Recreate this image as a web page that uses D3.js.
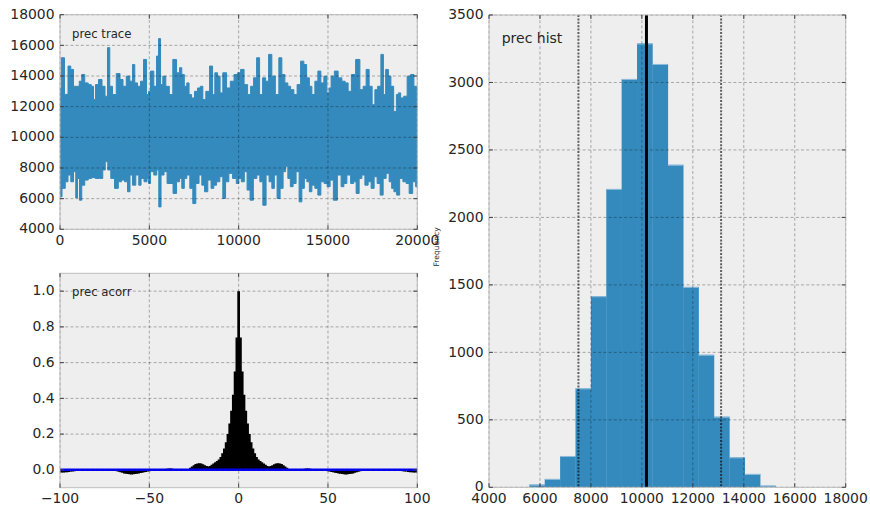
<!DOCTYPE html>
<html>
<head>
<meta charset="utf-8">
<script src="https://cdn.jsdelivr.net/npm/d3@7"></script>
<style>
  body { margin: 0; background: #ffffff; }
  text { font-family: "DejaVu Sans", sans-serif; fill: #262626; }
</style>
</head>
<body>
<svg id="fig" width="870" height="508"></svg>
<script>
// ---- MCMC trace of "prec": upper and lower envelope of the sampled chain ----
const traceHighIter = [0,140,364,532,672,840,1008,1148,1288,1484,1680,1820,1932,2044,2268,2436,2604,2716,2856,3024,3276,3444,3612,3808,4004,4116,4256,4424,4592,4760,4928,4984,5152,5348,5460,5572,5684,5824,6020,6216,6412,6636,6748,6888,7028,7168,7280,7448,7616,7784,7924,8064,8260,8484,8596,8736,8904,9016,9212,9436,9632,9856,10024,10192,10416,10584,10752,10920,11088,11256,11424,11592,11760,11956,12152,12348,12488,12684,12824,12992,13188,13356,13580,13720,13888,14028,14168,14364,14504,14700,14840,15036,15092,15260,15456,15680,15876,16044,16212,16408,16688,16884,17052,17220,17388,17556,17696,17864,18060,18144,18312,18452,18592,18760,18900,18984,19152,19320,19544,19712,19908,20000];
const traceHigh = [13200,15190,12800,14650,14430,13330,13330,13660,14100,13550,13440,13330,12460,13440,13770,13330,12680,15850,13330,12790,14160,13770,13330,13990,13660,14750,13550,13330,13660,15080,12790,13000,14320,13330,15300,16440,13440,13990,13330,12790,15080,14210,14540,14100,13330,13550,12790,12570,13000,13220,13330,12460,13000,14650,12790,14210,13990,12900,14210,13220,13660,14100,14210,14430,13440,12790,13330,13880,15190,12790,13880,13660,15410,13990,12790,15190,14100,13550,13330,13110,12790,13440,14970,14750,13880,13330,12790,13660,14320,13550,13990,12900,13220,13990,14320,13880,13660,13550,13000,14100,15080,13110,13330,14430,13330,12130,13110,13330,15410,12790,14430,13990,13330,11690,12790,12900,12570,12680,13990,14100,13330,13330];
const traceLowIter = [0,224,364,532,672,840,924,1036,1148,1288,1484,1680,1848,2100,2324,2464,2604,2744,2940,3164,3360,3528,3696,3864,3976,4144,4340,4480,4592,4816,4928,4984,5152,5348,5488,5572,5740,5908,6076,6244,6412,6636,6748,6888,7028,7168,7364,7504,7700,7868,8008,8176,8372,8540,8680,8848,9044,9184,9352,9548,9772,9968,10052,10248,10388,10556,10724,10920,11116,11256,11452,11620,11788,11928,12068,12236,12404,12572,12684,12824,12964,13132,13300,13468,13608,13748,13888,14028,14168,14364,14504,14700,14868,15036,15204,15400,15652,15820,15960,16156,16380,16492,16660,16828,16968,17164,17332,17500,17668,17836,18004,18172,18340,18508,18620,18760,18928,19096,19292,19460,19628,19852,19964,20000];
const traceLow = [6120,6670,7100,7540,7100,7760,6050,7320,5900,6880,7210,7320,7370,7320,7320,7870,8410,7870,7320,6670,7100,7210,7100,6450,7540,6880,7540,6880,7320,7100,7320,6990,7760,7540,7870,5460,7540,7760,6990,6990,6340,7100,7320,6670,7320,7540,6670,5680,6990,7540,6880,6450,7210,6670,6880,7100,7430,6010,7100,7650,7320,6990,7320,7100,7760,6560,5900,7320,7540,7100,5570,7540,7100,6670,7540,6010,6670,7760,8090,7320,6780,6990,7760,5790,6670,7320,7100,6450,6880,6670,6230,7100,6990,6780,7210,5900,7540,6780,6990,7540,6990,7100,6340,7320,7540,6880,7100,6670,7430,6990,6230,7320,7650,7100,6670,6450,6230,7320,7100,6990,6340,7100,6780,6780];

// ---- autocorrelation of the chain, lags 0..100 (symmetric in lag) ----
const acorrValues = [1.0,0.74,0.55,0.42,0.33,0.26,0.20,0.155,0.12,0.093,0.072,0.058,0.049,0.043,0.036,0.029,0.022,0.019,0.021,0.026,0.031,0.035,0.037,0.036,0.032,0.026,0.018,0.011,0.005,0.001,-0.001,0.0,-0.002,0.0,0.001,0.002,0.004,0.006,0.007,0.007,0.006,0.004,0.002,0.0,-0.001,-0.002,-0.003,-0.004,-0.005,-0.006,-0.008,-0.010,-0.012,-0.014,-0.016,-0.018,-0.020,-0.022,-0.024,-0.025,-0.026,-0.025,-0.024,-0.022,-0.020,-0.017,-0.014,-0.011,-0.008,-0.005,-0.003,-0.002,-0.001,0.0,0.001,0.002,0.003,0.004,0.004,0.003,0.002,0.002,0.001,0.0,0.0,-0.001,-0.002,-0.003,-0.004,-0.005,-0.006,-0.007,-0.008,-0.009,-0.010,-0.012,-0.013,-0.014,-0.015,-0.015,-0.014];

// ---- posterior histogram ----
const histEdges = [5583,6187,6791,7395,7999,8603,9206,9810,10414,11018,11622,12225,12829,13433,14037,14641,15245];
const histCounts = [20,62,232,733,1416,2211,3026,3289,3137,2390,1485,982,523,222,99,12];
const histMean = 10180;
const histInterval = [7510, 13110];

// ---- tick positions ----
const traceXTicks = [0,5000,10000,15000,20000];
const traceYTicks = [4000,6000,8000,10000,12000,14000,16000,18000];
const acorrXTicks = [-100,-50,0,50,100];
const acorrYTicks = [0.0,0.2,0.4,0.6,0.8,1.0];
const histXTicks = [4000,6000,8000,10000,12000,14000,16000,18000];
const histYTicks = [0,500,1000,1500,2000,2500,3000,3500];

const svg = d3.select("#fig");
const BLUE = "#348ABD";

let clipId = 0;
function panel(box, xDomain, yDomain) {
  const g = svg.append("g");
  const x = d3.scaleLinear().domain(xDomain).range([box.x0, box.x1]);
  const y = d3.scaleLinear().domain(yDomain).range([box.y1, box.y0]);
  g.append("rect").attr("x", box.x0).attr("y", box.y0)
    .attr("width", box.x1 - box.x0).attr("height", box.y1 - box.y0)
    .attr("fill", "#eeeeee");
  const id = "clip" + (clipId++);
  svg.append("clipPath").attr("id", id).append("rect")
    .attr("x", box.x0).attr("y", box.y0)
    .attr("width", box.x1 - box.x0).attr("height", box.y1 - box.y0);
  const data = g.append("g").attr("clip-path", `url(#${id})`);
  return { g, data, x, y, box };
}

function decorate(p, xTicks, yTicks, xFmt, yFmt) {
  const { g, x, y, box } = p;
  // dashed grid over the data
  const grid = g.append("g").attr("stroke", "#000").attr("stroke-opacity", 0.3)
    .attr("stroke-width", 1).attr("stroke-dasharray", "3,2.2").attr("fill", "none");
  xTicks.forEach(t => grid.append("line").attr("x1", x(t)).attr("x2", x(t))
    .attr("y1", box.y0).attr("y2", box.y1));
  yTicks.forEach(t => grid.append("line").attr("y1", y(t)).attr("y2", y(t))
    .attr("x1", box.x0).attr("x2", box.x1));
  // frame
  g.append("rect").attr("x", box.x0).attr("y", box.y0)
    .attr("width", box.x1 - box.x0).attr("height", box.y1 - box.y0)
    .attr("fill", "none").attr("stroke", "#bcbcbc").attr("stroke-width", 1);
  // inward ticks on all four sides
  const tk = g.append("g").attr("stroke", "#444").attr("stroke-width", 1);
  const L = 4;
  xTicks.forEach(t => {
    tk.append("line").attr("x1", x(t)).attr("x2", x(t)).attr("y1", box.y1).attr("y2", box.y1 - L);
    tk.append("line").attr("x1", x(t)).attr("x2", x(t)).attr("y1", box.y0).attr("y2", box.y0 + L);
  });
  yTicks.forEach(t => {
    tk.append("line").attr("y1", y(t)).attr("y2", y(t)).attr("x1", box.x0).attr("x2", box.x0 + L);
    tk.append("line").attr("y1", y(t)).attr("y2", y(t)).attr("x1", box.x1).attr("x2", box.x1 - L);
  });
  // tick labels
  xTicks.forEach(t => g.append("text").attr("x", x(t)).attr("y", box.y1 + 15.5)
    .attr("text-anchor", "middle").attr("font-size", 13.9).text(xFmt(t)));
  yTicks.forEach(t => g.append("text").attr("x", box.x0 - 5.5).attr("y", y(t))
    .attr("dy", "0.3em").attr("text-anchor", "end").attr("font-size", 13.9).text(yFmt(t)));
}

const intFmt = d => String(d);
const minusFmt = d => (d < 0 ? "\u2212" + Math.abs(d) : String(d));
const oneDec = d => d.toFixed(1);

// ---------- trace ----------
const tr = panel({ x0: 60, x1: 417.3, y0: 14.7, y1: 229.3 }, [0, 20000], [4000, 18000]);
const hiPts = traceHighIter.map((it, i) => ({ it, v: traceHigh[i] }));
const loPts = traceLowIter.map((it, i) => ({ it, v: traceLow[i] }));
const band = d3.area().curve(d3.curveStep)
  .x(d => tr.x(d.it)).y0(tr.y(histMean)).y1(d => tr.y(d.v));
tr.data.append("path").datum(hiPts).attr("d", band)
  .attr("fill", BLUE).attr("stroke", BLUE).attr("stroke-width", 1);
tr.data.append("path").datum(loPts).attr("d", band)
  .attr("fill", BLUE).attr("stroke", BLUE).attr("stroke-width", 1);
decorate(tr, traceXTicks, traceYTicks, intFmt, intFmt);
tr.g.append("text").attr("x", 72).attr("y", 37.7).attr("font-size", 11.7).text("prec trace");

// ---------- autocorrelation ----------
const ac = panel({ x0: 60, x1: 417.3, y0: 273.3, y1: 487.7 }, [-100, 100], [-0.1, 1.1]);
const lags = d3.range(-100, 101);
ac.data.selectAll("line.lag").data(lags).enter().append("line")
  .attr("x1", d => ac.x(d)).attr("x2", d => ac.x(d))
  .attr("y1", ac.y(0)).attr("y2", d => ac.y(acorrValues[Math.abs(d)]))
  .attr("stroke", "#000").attr("stroke-width", 2.7);
ac.data.append("line").attr("x1", ac.x(-100)).attr("x2", ac.x(100))
  .attr("y1", ac.y(0)).attr("y2", ac.y(0))
  .attr("stroke", "#0000ff").attr("stroke-width", 2.5);
decorate(ac, acorrXTicks, acorrYTicks, minusFmt, oneDec);
ac.g.append("text").attr("x", 72).attr("y", 296).attr("font-size", 11.7).text("prec acorr");

// ---------- histogram ----------
const hi = panel({ x0: 489, x1: 845.7, y0: 15, y1: 487.3 }, [4000, 18000], [0, 3500]);
const bins = histCounts.map((c, i) => ({ a: histEdges[i], b: histEdges[i + 1], c }));
hi.data.selectAll("rect.bin").data(bins).enter().append("rect")
  .attr("x", d => hi.x(d.a)).attr("width", d => hi.x(d.b) - hi.x(d.a) + 0.3)
  .attr("y", d => hi.y(d.c)).attr("height", d => hi.y(0) - hi.y(d.c))
  .attr("fill", BLUE);
// light top edge on each bin
hi.data.selectAll("line.binTop").data(bins).enter().append("line")
  .attr("x1", d => hi.x(d.a)).attr("x2", d => hi.x(d.b))
  .attr("y1", d => hi.y(d.c) + 0.5).attr("y2", d => hi.y(d.c) + 0.5)
  .attr("stroke", "#8fbcdb").attr("stroke-width", 1);
histInterval.forEach(v => hi.data.append("line")
  .attr("x1", hi.x(v)).attr("x2", hi.x(v)).attr("y1", hi.box.y0).attr("y2", hi.box.y1)
  .attr("stroke", "#000").attr("stroke-opacity", 0.6).attr("stroke-width", 2)
  .attr("stroke-dasharray", "2,1.4"));
hi.data.append("line").attr("x1", hi.x(histMean)).attr("x2", hi.x(histMean))
  .attr("y1", hi.box.y0).attr("y2", hi.box.y1)
  .attr("stroke", "#000").attr("stroke-width", 3);
decorate(hi, histXTicks, histYTicks, intFmt, intFmt);
hi.g.append("text").attr("x", 501.7).attr("y", 42.5).attr("font-size", 14).text("prec hist");
hi.g.append("text").attr("transform", "translate(438.5,247) rotate(-90)")
  .attr("text-anchor", "middle").attr("font-size", 7.6).text("Frequency");
</script>
</body>
</html>
